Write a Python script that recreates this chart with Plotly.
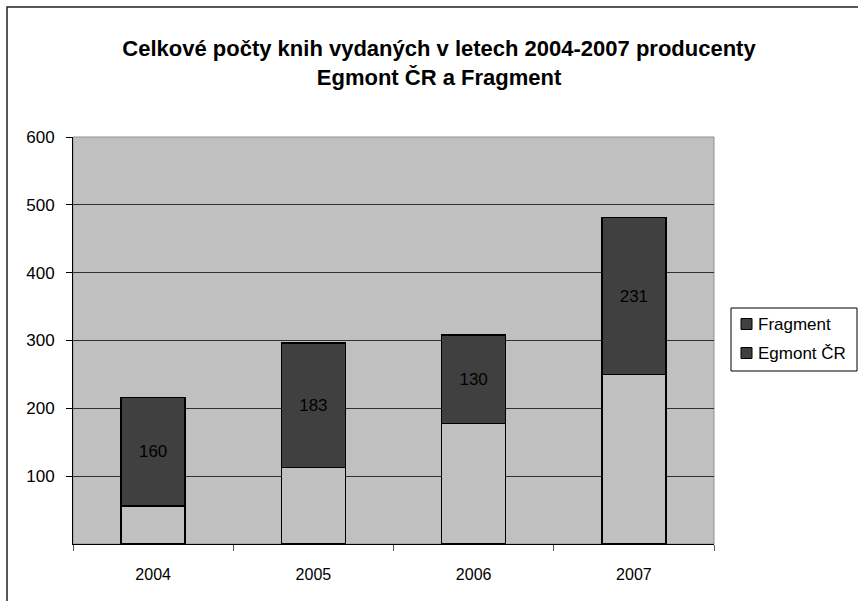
import plotly.graph_objects as go

# Books published per year by each producer
years = ["2004", "2005", "2006", "2007"]
egmont = [56, 113, 178, 250]
fragment = [160, 183, 130, 231]
y_ticks = [100, 200, 300, 400, 500, 600]
legend_names = ["Fragment", "Egmont ČR"]

title_text = ("Celkové počty knih vydaných v letech 2004-2007 producenty"
              "<br>Egmont ČR a Fragment")

BG = "#c0c0c0"
DARK = "#404040"
FONT = "Liberation Sans, Arial, sans-serif"

fig = go.Figure()

# stacked bars: Egmont ČR at the bottom, Fragment on top with value labels
fig.add_trace(go.Bar(
    x=years, y=egmont, name="Egmont ČR",
    marker=dict(color=BG, line=dict(color="#000000", width=1.5)),
    showlegend=False, width=0.4,
))
fig.add_trace(go.Bar(
    x=years, y=fragment, name="Fragment",
    marker=dict(color=DARK, line=dict(color="#000000", width=1.5)),
    text=fragment, texttemplate="%{text}", textposition="inside",
    insidetextanchor="middle", textangle=0,
    insidetextfont=dict(color="#000000", size=17, family=FONT),
    showlegend=False, width=0.4,
))

L, R, T, B = 73, 144, 137, 57
W, H = 858, 601
pw, ph = W - L - R, H - T - B

def px_x(v):
    return (v - L) / pw

def px_y(v):
    return (H - B - v) / ph

shapes = [
    # plot area frame
    dict(type="rect", xref="paper", yref="paper", x0=0, x1=1, y0=0, y1=1,
         line=dict(color="#909090", width=1), layer="below"),
    # outer chart frame
    dict(type="rect", xref="paper", yref="paper",
         x0=px_x(7), x1=1.6, y0=-0.5, y1=px_y(7),
         line=dict(color="#222222", width=1.5)),
    # legend box
    dict(type="rect", xref="paper", yref="paper",
         x0=px_x(731), x1=px_x(857), y0=px_y(371), y1=px_y(308),
         line=dict(color="#000000", width=1), fillcolor="#ffffff"),
]
annotations = []

# legend rows: dark swatch followed by the series name
row_y = [324, 353]
for nm, yc in zip(legend_names, row_y):
    shapes.append(dict(
        type="rect", xref="paper", yref="paper",
        x0=px_x(741), x1=px_x(752), y0=px_y(yc + 5.5), y1=px_y(yc - 5.5),
        line=dict(color="#000000", width=1), fillcolor=DARK,
    ))
    annotations.append(dict(
        text=nm, xref="paper", yref="paper", x=px_x(756), y=px_y(yc),
        xanchor="left", yanchor="middle", showarrow=False,
        font=dict(size=17, family=FONT, color="#000000"),
    ))

fig.update_layout(
    width=W, height=H,
    margin=dict(l=L, r=R, t=T, b=B, autoexpand=False),
    barmode="stack",
    showlegend=False,
    paper_bgcolor="#ffffff",
    plot_bgcolor=BG,
    font=dict(family=FONT, size=16, color="#000000"),
    title=dict(
        text=title_text, x=439 / W, xanchor="center",
        y=1 - 56 / H, yanchor="middle", yref="container",
        font=dict(family=FONT, size=22, color="#000000", weight="bold"),
    ),
    xaxis=dict(
        type="category", showgrid=False, showline=True,
        linecolor="#000000", linewidth=1, ticks="outside",
        tickson="boundaries", ticklen=6, tickcolor="#606060",
        ticklabelstandoff=16,
        tickfont=dict(size=16, family=FONT),
    ),
    yaxis=dict(
        range=[0, 600], tickvals=y_ticks, showgrid=True,
        gridcolor="#303030", gridwidth=1, showline=True,
        linecolor="#000000", linewidth=1, ticks="outside",
        ticklen=6, tickcolor="#000000", zeroline=False,
        ticklabelstandoff=8,
        tickfont=dict(size=17, family=FONT),
    ),
    shapes=shapes,
    annotations=annotations,
)

fig.write_html("out.html")
